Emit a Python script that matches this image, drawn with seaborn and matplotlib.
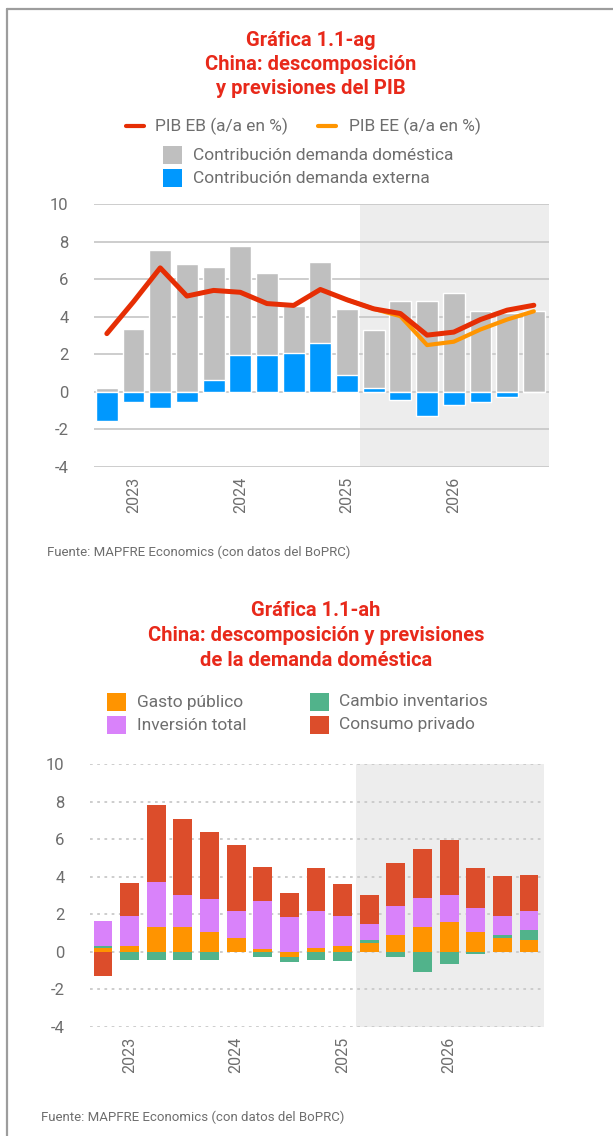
import numpy as np
import pandas as pd
import matplotlib
matplotlib.use("Agg")
import matplotlib.pyplot as plt
from matplotlib.lines import Line2D
from matplotlib.patches import Rectangle
import seaborn as sns

# ---- data -------------------------------------------------------------
quarters = ["4T22", "1T23", "2T23", "3T23", "4T23", "1T24", "2T24", "3T24", "4T24",
            "1T25", "2T25", "3T25", "4T25", "1T26", "2T26", "3T26", "4T26"]
year_ticks = [1, 5, 9, 13]
year_labels = ["2023", "2024", "2025", "2026"]

# GDP decomposition (pp) and GDP growth (y/y %)
dom_demand = [0.2, 3.37, 7.53, 6.81, 6.65, 7.78, 6.33, 4.55, 6.92,
              4.43, 3.27, 4.86, 4.86, 5.28, 4.28, 4.19, 4.28]
ext_demand = [-1.55, -0.54, -0.88, -0.54, 0.63, 1.94, 1.94, 2.05, 2.6,
              0.88, 0.19, -0.42, -1.27, -0.69, -0.53, -0.27, 0.0]
pib_eb = [3.1, 4.8, 6.6, 5.1, 5.4, 5.3, 4.7, 4.6, 5.45,
          4.9, 4.42, 4.17, 3.02, 3.18, 3.85, 4.35, 4.61]
pib_ee = [np.nan] * 9 + [4.9, 4.42, 4.03, 2.49, 2.67, 3.32, 3.85, 4.29]

# domestic demand decomposition (pp)
gasto_publico = [0.19, 0.3, 1.33, 1.33, 1.04, 0.72, 0.17, -0.27, 0.2,
                 0.32, 0.49, 0.92, 1.34, 1.59, 1.06, 0.74, 0.62]
cambio_inv = [0.11, -0.42, -0.42, -0.42, -0.45, 0.0, -0.27, -0.27, -0.42,
              -0.51, 0.14, -0.25, -1.09, -0.67, -0.1, 0.16, 0.53]
inversion = [1.33, 1.59, 2.37, 1.68, 1.8, 1.43, 2.54, 1.87, 1.96,
             1.59, 0.85, 1.52, 1.52, 1.43, 1.27, 1.0, 1.0]
consumo = [-1.27, 1.8, 4.13, 4.08, 3.55, 3.55, 1.8, 1.27, 2.28,
           1.69, 1.53, 2.28, 2.59, 2.96, 2.12, 2.12, 1.96]

forecast_start = 9.5

# ---- style ------------------------------------------------------------
sns.set_theme(style="white")
plt.rcParams["font.family"] = ["Roboto", "DejaVu Sans"]

TXT = "#6e6e6e"
TITLE_RED = "#e8291a"
GRID = "#c9c9c9"
SHADE = "#ededed"
C_DOM, C_EXT = "#bfbfbf", "#0098fe"
C_EB, C_EE = "#e62e04", "#ff9500"
C_GASTO, C_INV, C_INVENT, C_CONS = "#ff9400", "#d982fa", "#51b38b", "#dc4d2b"

W, H = 613, 1136
fig = plt.figure(figsize=(W / 100, H / 100), dpi=100)


def fx(x):
    return x / W


def fy(y):
    return 1 - y / H


def axes_px(left, top, right, bottom):
    return fig.add_axes([fx(left), fy(bottom), fx(right - left), (bottom - top) / H])


# outer frame
fig.add_artist(Line2D([fx(6.5), fx(613)], [fy(9), fy(9)], color="#9d9d9d", lw=1.6,
                      transform=fig.transFigure))
fig.add_artist(Line2D([fx(6.5), fx(6.5)], [fy(9), fy(1136)], color="#9d9d9d", lw=1.6,
                      transform=fig.transFigure))


def style_axes(ax, dotted):
    ax.set_xlim(-0.5, 16.55)
    ax.set_ylim(-4, 10)
    ax.axvspan(forecast_start, 16.55, color=SHADE, zorder=0, lw=0)
    for v in range(-4, 11, 2):
        ax.axhline(v, color=GRID, lw=1.3, ls=(0, (1.5, 2.5)) if dotted else "-", zorder=0.5)
    ax.set_yticks(range(-4, 11, 2))
    ax.set_yticklabels([str(v) for v in range(-4, 11, 2)])
    ax.set_xticks(year_ticks)
    ax.set_xticklabels(year_labels, rotation=90)
    ax.tick_params(axis="y", length=0, pad=18, labelsize=12, labelcolor=TXT)
    ax.tick_params(axis="x", length=0, pad=7, labelsize=11.5, labelcolor=TXT)
    ax.set_xlabel("")
    ax.set_ylabel("")
    for s in ax.spines.values():
        s.set_visible(False)


def legend_patch(x, y, color):
    fig.add_artist(Rectangle((fx(x), fy(y + 9)), 19 / W, 18 / H, color=color,
                             transform=fig.transFigure, lw=0))


def legend_line(x, y, color):
    fig.add_artist(Line2D([fx(x), fx(x + 18)], [fy(y), fy(y)], color=color, lw=3,
                          transform=fig.transFigure))


def legend_text(x, y, s):
    fig.text(fx(x), fy(y), s, ha="left", va="center", fontsize=12.5, color=TXT)


# ---- chart 1: GDP decomposition --------------------------------------
for i, line in enumerate(["Gráfica 1.1-ag", "China: descomposición", "y previsiones del PIB"]):
    fig.text(fx(311), fy(40 + i * 24), line, ha="center", va="center",
             fontsize=14.5, fontweight="bold", color=TITLE_RED)

legend_line(126, 126, C_EB)
legend_text(155, 126, "PIB EB (a/a en %)")
legend_line(318, 126, C_EE)
legend_text(349, 126, "PIB EE (a/a en %)")
legend_patch(163, 155, C_DOM)
legend_text(193, 155, "Contribución demanda doméstica")
legend_patch(163, 178, C_EXT)
legend_text(193, 178, "Contribución demanda externa")

df1 = pd.DataFrame({"pos": range(len(quarters)), "quarter": quarters,
                    "dom": dom_demand, "ext": ext_demand,
                    "eb": pib_eb, "ee": pib_ee})

ax1 = axes_px(93.5, 204, 548.5, 467)
sns.barplot(data=df1, x="pos", y="dom", color=C_DOM, width=0.82, saturation=1,
            native_scale=True, ax=ax1, zorder=2)
sns.barplot(data=df1, x="pos", y="ext", color=C_EXT, width=0.82, saturation=1,
            native_scale=True, ax=ax1, zorder=3)
sns.lineplot(data=df1, x="pos", y="ee", color=C_EE, lw=3.0, ax=ax1, zorder=4)
sns.lineplot(data=df1, x="pos", y="eb", color=C_EB, lw=3.6, ax=ax1, zorder=5)
style_axes(ax1, dotted=False)

fig.text(fx(47), fy(552), "Fuente: MAPFRE Economics (con datos del BoPRC)",
         ha="left", va="center", fontsize=9.5, color=TXT)

# ---- chart 2: domestic demand decomposition --------------------------
for i, line in enumerate(["Gráfica 1.1-ah", "China: descomposición y previsiones",
                          "de la demanda doméstica"]):
    fig.text(fx(316), fy(611 + i * 24.5), line, ha="center", va="center",
             fontsize=14.5, fontweight="bold", color=TITLE_RED)

legend_patch(107, 702, C_GASTO)
legend_text(137, 702, "Gasto público")
legend_patch(107, 725, C_INV)
legend_text(137, 725, "Inversión total")
legend_patch(310, 702, C_INVENT)
legend_text(339, 702, "Cambio inventarios")
legend_patch(310, 725, C_CONS)
legend_text(339, 725, "Consumo privado")

ax2 = axes_px(89.7, 764, 543.6, 1027)
x = np.arange(len(quarters))
pos_base = np.zeros(len(quarters))
neg_base = np.zeros(len(quarters))
for vals, col in [(gasto_publico, C_GASTO), (cambio_inv, C_INVENT),
                  (inversion, C_INV), (consumo, C_CONS)]:
    v = np.asarray(vals, dtype=float)
    base = np.where(v >= 0, pos_base, neg_base)
    ax2.bar(x, v, bottom=base, width=0.71, color=col, lw=0, zorder=2)
    pos_base = pos_base + np.clip(v, 0, None)
    neg_base = neg_base + np.clip(v, None, 0)
style_axes(ax2, dotted=True)

fig.text(fx(41), fy(1117), "Fuente: MAPFRE Economics (con datos del BoPRC)",
         ha="left", va="center", fontsize=9.5, color=TXT)

fig.savefig("out.png", dpi=100)
